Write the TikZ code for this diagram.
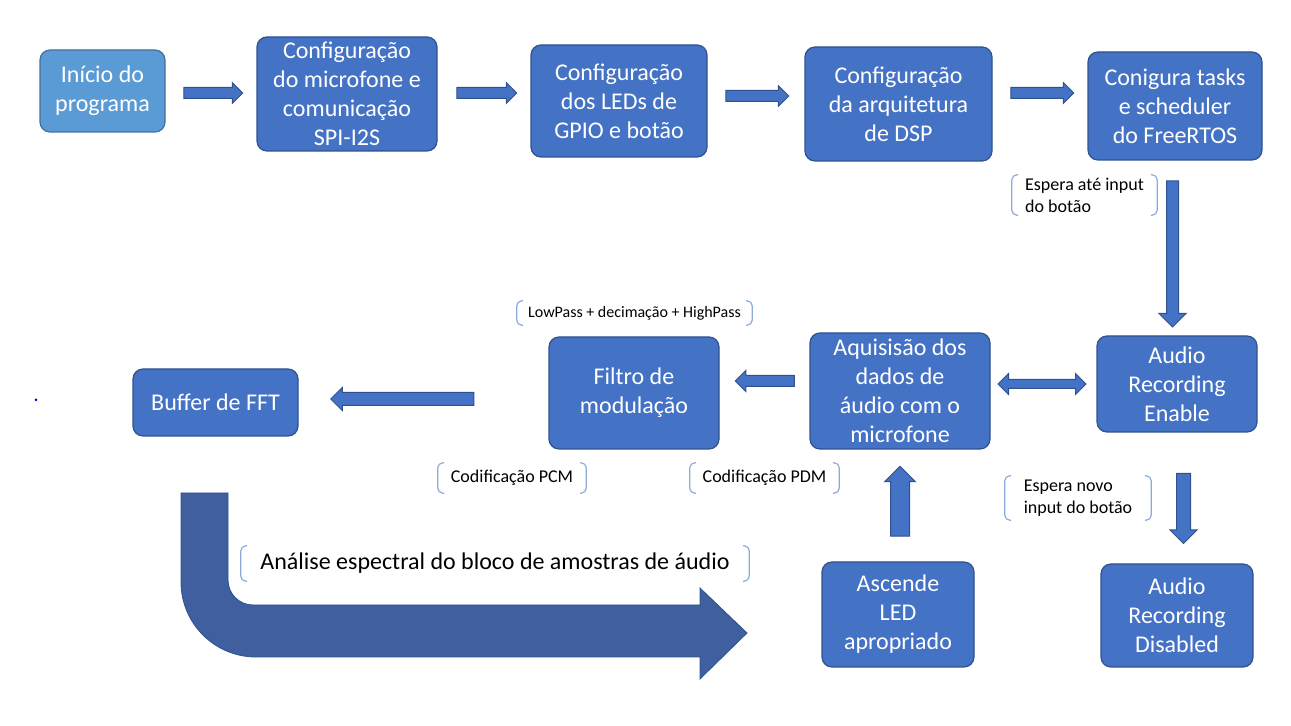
\documentclass[tikz,border=0pt]{standalone}
\usepackage{fontspec}
\setmainfont{Carlito}
\usepackage{tikz}
\usetikzlibrary{shapes.arrows}

\definecolor{boxblue}{HTML}{4472C4}
\definecolor{boxline}{HTML}{2F528F}
\definecolor{startblue}{HTML}{5B9BD5}
\definecolor{startline}{HTML}{41719C}
\definecolor{bendblue}{HTML}{3F5F9E}
\definecolor{notec}{HTML}{8EA9DB}

\tikzset{
  box/.style={draw=boxline, fill=boxblue, rounded corners=5pt, text=white,
    align=center, inner sep=2pt, line width=0.6pt,
    font=\fontsize{12}{14.5}\selectfont},
  barrow/.style={single arrow, draw=boxline, fill=boxblue, line width=0.5pt,
    inner sep=2.5pt, single arrow head extend=2.5pt},
  note/.style={inner sep=0pt, align=left, text=black,
    font=\fontsize{9}{11}\selectfont,
    path picture={
      \draw[notec, line width=0.6pt, rounded corners=2.5pt]
        ([xshift=3.5pt,yshift=-0.4pt]path picture bounding box.north west)
        -- ([xshift=0.4pt,yshift=-0.4pt]path picture bounding box.north west)
        -- ([xshift=0.4pt,yshift=0.4pt]path picture bounding box.south west)
        -- ([xshift=3.5pt,yshift=0.4pt]path picture bounding box.south west);
      \draw[notec, line width=0.6pt, rounded corners=2.5pt]
        ([xshift=-3.5pt,yshift=-0.4pt]path picture bounding box.north east)
        -- ([xshift=-0.4pt,yshift=-0.4pt]path picture bounding box.north east)
        -- ([xshift=-0.4pt,yshift=0.4pt]path picture bounding box.south east)
        -- ([xshift=-3.5pt,yshift=0.4pt]path picture bounding box.south east);
    }},
}

\begin{document}
\begin{tikzpicture}[x=0.5pt, y=-0.5pt]
    \useasboundingbox (0,0) rectangle (1291,726);

    % top row
    \node[box, fill=startblue, draw=startline, minimum width=62.5pt, minimum height=41pt]
      (inicio) at (102.5,91) {Início do\\programa};
    \node[box, minimum width=90pt, minimum height=57pt]
      (cfgmic) at (347,94) {Configuração\\do microfone e\\comunicação\\SPI-I2S};
    \node[box, minimum width=88pt, minimum height=56pt]
      (cfgled) at (619,101) {Configuração\\dos LEDs de\\GPIO e botão};
    \node[box, minimum width=93.5pt, minimum height=57pt]
      (cfgdsp) at (898.5,104) {Configuração\\da arquitetura\\de DSP};
    \node[box, minimum width=87pt, minimum height=54pt]
      (freertos) at (1175,106) {Conigura tasks\\e scheduler\\do FreeRTOS};

    % middle row
    \node[box, minimum width=80pt, minimum height=48pt]
      (recen) at (1177,384) {Audio\\Recording\\Enable};
    \node[box, minimum width=90pt, minimum height=58pt]
      (aquis) at (900,391) {Aquisisão dos\\dados de\\áudio com o\\microfone};
    \node[box, minimum width=85pt, minimum height=56pt]
      (filtro) at (634,393) {Filtro de\\modulação};
    \node[box, minimum width=82.5pt, minimum height=33.5pt]
      (buffer) at (215.5,402.5) {Buffer de FFT};

    % bottom row
    \node[box, minimum width=76pt, minimum height=52.5pt]
      (led) at (898,614.5) {Ascende\\LED\\apropriado};
    \node[box, minimum width=76pt, minimum height=51.5pt]
      (recdis) at (1177,615.5) {Audio\\Recording\\Disabled};

    \node[circle, fill=blue, inner sep=0pt, minimum size=1.5pt] (dot) at (36,400) {};

    % block arrows
    \node[barrow, minimum height=29.5pt] (a1) at (210.5,93) {};
    \node[barrow, minimum height=30pt] (a2) at (484,93) {};
    \node[barrow, minimum height=31.5pt] (a3) at (754.5,96) {};
    \node[barrow, minimum height=31.5pt] (a4) at (1039.5,93) {};
    \node[barrow, shape border rotate=270, minimum height=73pt, inner sep=2.75pt,
      single arrow head extend=3.75pt] (a5) at (1172.5,251) {};
    \node[double arrow, draw=boxline, fill=boxblue, line width=0.5pt, inner sep=2pt,
      minimum height=44pt, double arrow head extend=3pt]
      (a6) at (1042,384) {};
    \node[barrow, shape border rotate=180, minimum height=29.5pt] (a7) at (767.5,381) {};
    \node[barrow, shape border rotate=180, minimum height=71.5pt, inner sep=3pt]
      (a8) at (405.5,399) {};
    \node[barrow, shape border rotate=270, minimum height=35pt, inner sep=3.25pt,
      single arrow head extend=3.25pt] (a9) at (1183.5,505) {};
    \node[barrow, shape border rotate=90, minimum height=35pt, inner sep=4.5pt,
      single arrow head extend=3pt] (a10) at (900,506) {};

    % bent arrow
    \filldraw[fill=bendblue, draw=boxline, line width=0.4pt]
      (181,493) -- (228,493) -- (228,580) arc[start angle=180, end angle=90, radius=25]
      -- (700,605) -- (700,588) -- (747,633) -- (700,679) -- (700,657) -- (256,657)
      arc[start angle=90, end angle=180, radius=75] -- cycle;

    % notes
    \node[note, minimum width=73.5pt, minimum height=21pt]
      (espera1) at (1084.5,195) {Espera até input\\do botão};
    \node[note, font=\fontsize{8}{10}\selectfont, minimum width=118.5pt, minimum height=13pt]
      (lowpass) at (634.5,313) {LowPass + decimação + HighPass};
    \node[note, minimum width=75pt, minimum height=16pt]
      (pcm) at (512,478) {Codificação PCM};
    \node[note, minimum width=75.5pt, minimum height=16pt]
      (pdm) at (764.5,478) {Codificação PDM};
    \node[note, minimum width=74pt, minimum height=23pt]
      (espera2) at (1078,498) {Espera novo\\input do botão};
    \node[note, font=\fontsize{12}{14.5}\selectfont, minimum width=255pt, minimum height=18.5pt]
      (analise) at (495,563.5) {Análise espectral do bloco de amostras de áudio};
\end{tikzpicture}
\end{document}
